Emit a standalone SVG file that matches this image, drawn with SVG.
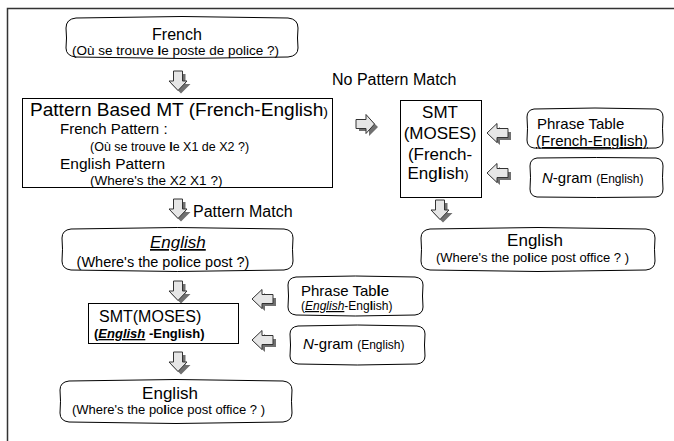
<svg xmlns="http://www.w3.org/2000/svg" width="674" height="441" viewBox="0 0 674 441">
<style>
text{font-family:"Liberation Sans",Arial,sans-serif;fill:#000}
.box{fill:#fff;stroke:#000;stroke-width:1}
.t17{font-size:17px}
.t16{font-size:16px}
.t15{font-size:15px}
.t13{font-size:13px}
.t12{font-size:12px}
.c{text-anchor:middle}
.arr{fill:#e6e6e6;stroke:#333;stroke-width:1}
.sh{fill:#707070}
</style>
<defs>
<g id="down">
<path class="sh" d="M-1.5,3 h9 v10 h5 l-9.5,9.5 l-9.5,-9.5 h5 z"/>
<path class="arr" d="M-4.5,0 h9 v10 h4.5 l-9,9.5 l-9,-9.5 h4.5 z"/>
</g>
<g id="right">
<path class="sh" d="M3,-1 h10 v-5 l9,9 l-9,9 v-5 h-10 z"/>
<path class="arr" d="M0,-4.5 h10 v-5 l8.5,9.5 l-8.5,9.5 v-5 h-10 z"/>
</g>
<g id="left">
<path class="sh" d="M24,-1 h-11 v-5 l-10,9 l10,9 v-5 h11 z"/>
<path class="arr" d="M21,-4.5 h-11 v-5 l-10,9.5 l10,9.5 v-5 h11 z"/>
</g>
</defs>
<path d="M7.5,441 V8.5 H674" fill="none" stroke="#333" stroke-width="1.5"/>
<g id="connectors">
<use href="#down" x="178" y="71"/>
<use href="#down" x="178" y="199"/>
<use href="#right" x="356" y="124"/>
<use href="#left" x="487" y="133"/>
<use href="#left" x="487" y="173"/>
<use href="#down" x="440" y="200"/>
<use href="#down" x="178" y="281"/>
<use href="#left" x="252" y="299"/>
<use href="#left" x="252" y="340"/>
<use href="#down" x="178" y="352"/>
</g>
<text x="332" y="85" class="t16">No Pattern Match</text>
<text x="193" y="217" class="t16">Pattern Match</text>
<g id="french">
<path class="box" d="M76,18 Q182,15 288,18 Q298,19 298,28 Q297,38 298,48 Q298,56 288,57 Q182,60 76,57 Q66,56 66,48 Q67,38 66,28 Q66,19 76,18 z"/>
<text x="177" y="40" class="t16 c">French</text>
<text x="175.5" y="55" class="c" font-size="13.5">(Où se trouve <tspan font-weight="bold">l</tspan>e poste de police ?)</text>
</g>
<g id="pattern">
<rect class="box" x="22.5" y="98.5" width="310" height="89"/>
<text x="30" y="116" font-size="17.5" textLength="298" lengthAdjust="spacingAndGlyphs">Pattern Based MT (French-English<tspan font-size="13">)</tspan></text>
<text x="60" y="134" class="t15">French Pattern :</text>
<text x="90" y="151" font-size="12.5">(Où se trouve <tspan font-weight="bold">l</tspan>e X1 de X2 ?)</text>
<text x="60" y="169" font-size="15.5">English Pattern</text>
<text x="90" y="185" font-size="13.5">(Where's the X2 X1 ?)</text>
</g>
<g id="smt1">
<rect class="box" x="400.5" y="100.5" width="81" height="97"/>
<text x="440" y="118" class="t17 c">SMT</text>
<text x="440" y="139" class="t17 c">(MOSES)</text>
<text x="440" y="160" class="t17 c">(French-</text>
<text x="438" y="179" class="t17 c">Eng<tspan font-weight="bold">l</tspan>ish<tspan font-size="13">)</tspan></text>
</g>
<g id="phrase1">
<path class="box" d="M534,109 Q595,107 656,109 Q663,110 663,117 Q662,128 663,140 Q663,147 656,148 Q595,150 534,148 Q527,147 527,140 Q528,128 527,117 Q527,110 534,109 z"/>
<text x="537" y="129" class="t15">Phrase Table</text>
<text x="536" y="146" class="t15" text-decoration="underline">(French-Eng<tspan font-weight="bold">l</tspan>ish)</text>
</g>
<g id="ngram1">
<path class="box" d="M537,158 Q596,157 656,158 Q663,159 663,166 Q662,177 663,189 Q663,196 656,197 Q596,198 537,197 Q530,196 530,189 Q531,177 530,166 Q530,159 537,158 z"/>
<text x="542" y="183" class="t15"><tspan font-style="italic">N</tspan>-gram <tspan font-size="12">(English)</tspan></text>
</g>
<g id="english1">
<path class="box" d="M430,229 Q538,226 646,229 Q655,230 655,238 Q654,249 655,261 Q655,269 646,270 Q538,273 430,270 Q421,269 421,261 Q422,249 421,238 Q421,230 430,229 z"/>
<text x="535" y="246" class="t17 c">English</text>
<text x="532.5" y="262" class="t13 c">(Where's the po<tspan font-weight="bold">l</tspan>ice post office ? )</text>
</g>
<g id="english2">
<path class="box" d="M71,229 Q177,226 284,229 Q293,230 293,238 Q292,249 293,261 Q293,269 284,270 Q177,273 71,270 Q62,269 62,261 Q63,249 62,238 Q62,230 71,229 z"/>
<text x="150" y="248" class="t17" font-style="italic" text-decoration="underline">English </text>
<text x="163" y="266.5" class="c" font-size="14.5">(Where's the po<tspan font-weight="bold">l</tspan>ice post ?)</text>
</g>
<g id="phrase2">
<path class="box" d="M296,277 Q355,275 415,277 Q423,278 423,285 Q422,296 423,307 Q423,314 415,315 Q355,317 296,315 Q288,314 288,307 Q289,296 288,285 Q288,278 296,277 z"/>
<text x="301" y="296" class="t15">Phrase Tab<tspan font-weight="bold">l</tspan>e</text>
<text x="301" y="310" class="t12">(<tspan font-style="italic" text-decoration="underline">English</tspan>-Eng<tspan font-weight="bold">l</tspan>ish)</text>
</g>
<g id="smt2">
<rect class="box" x="88.5" y="303.5" width="150" height="40"/>
<text x="99" y="322" class="t16">SMT(MOSES)</text>
<text x="94" y="338" class="t13" font-weight="bold">(<tspan font-style="italic" text-decoration="underline">English</tspan> -English)</text>
</g>
<g id="ngram2">
<path class="box" d="M298,326 Q357,324 417,326 Q425,327 425,334 Q424,345 425,356 Q425,363 417,364 Q357,366 298,364 Q290,363 290,356 Q291,345 290,334 Q290,327 298,326 z"/>
<text x="303" y="349" class="t15"><tspan font-style="italic">N</tspan>-gram <tspan font-size="12">(English)</tspan></text>
</g>
<g id="english3">
<path class="box" d="M69,381 Q176,378 283,381 Q292,382 292,390 Q291,401 292,413 Q292,421 283,422 Q176,425 69,422 Q60,421 60,413 Q61,401 60,390 Q60,382 69,381 z"/>
<text x="170" y="399" class="t17 c">English</text>
<text x="168.5" y="414" class="t13 c">(Where's the po<tspan font-weight="bold">l</tspan>ice post office ? )</text>
</g>
</svg>
